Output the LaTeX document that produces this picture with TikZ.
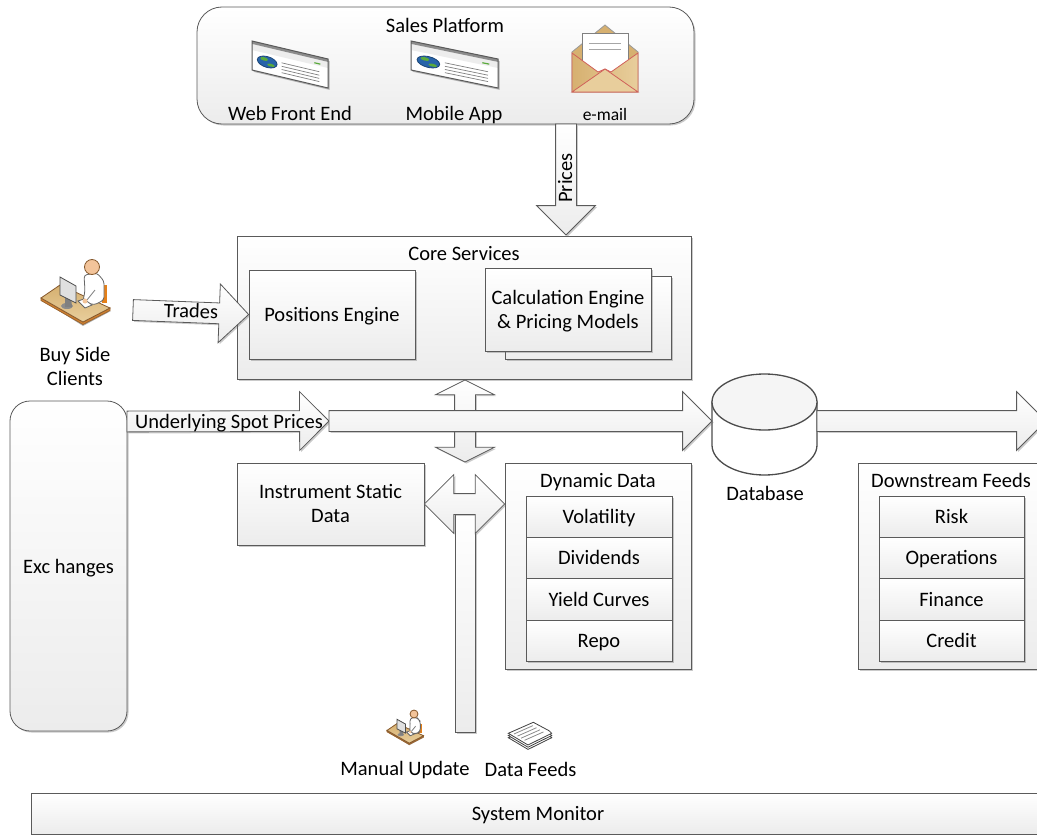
\documentclass[tikz,border=0pt]{standalone}
\usepackage{fontspec}
\setmainfont{Carlito}
\usepackage{tikz}
\usetikzlibrary{calc,shapes.arrows,shadows}
\definecolor{myline}{RGB}{90,90,90}
\definecolor{mybottom}{RGB}{236,236,236}
\definecolor{mytan}{RGB}{214,176,112}
\definecolor{mypale}{RGB}{232,206,156}
\definecolor{myrose}{RGB}{208,96,90}
\definecolor{myskin}{RGB}{243,196,154}
\definecolor{myglobe}{RGB}{40,100,170}
\definecolor{mygreen}{RGB}{90,170,60}
\tikzstyle{boxshadow}=[drop shadow={shadow xshift=1.5pt,shadow yshift=-1.5pt,opacity=.35,fill=black!60}]
\tikzstyle{oneline}=[text height=18pt,text depth=4pt]
\tikzstyle{panel}=[draw=myline,rectangle,top color=white,bottom color=mybottom,boxshadow,inner sep=0pt,align=center]
\tikzstyle{rowbox}=[panel,text height=17pt,text depth=4pt,minimum width=146pt,minimum height=41.4pt]
\tikzstyle{boxtitle}=[inner sep=0pt,align=center]
\tikzstyle{arrowbase}=[draw=myline,top color=white,bottom color=mybottom,boxshadow,outer sep=0pt,inner xsep=0pt,inner ysep=10pt]
\tikzstyle{blockarrow}=[arrowbase,single arrow,single arrow head extend=19pt,single arrow tip angle=90,anchor=tail]
\tikzstyle{twowayarrow}=[arrowbase,double arrow,double arrow head extend=19pt,double arrow tip angle=90,anchor=center]
% #1 name, #2 from, #3 to
\newcommand{\blockarrow}[3]{\path let \p1=($(#3)-(#2)$), \n1={veclen(\x1,\y1)}, \n2={atan2(\y1,\x1)} in (#2) node [blockarrow,minimum height=\n1,rotate=\n2] (#1) {};}
\newcommand{\twowayarrow}[4][]{\path let \p1=($(#4)-(#3)$), \n1={veclen(\x1,\y1)}, \n2={atan2(\y1,\x1)} in ($(#3)!.5!(#4)$) node [twowayarrow,#1,minimum height=\n1,rotate=\n2] (#2) {};}
% #1 left, #2 top, #3 width
\newcommand{\browsericon}[3]{
\begin{scope}[shift={(#1,#2)},x={(#3pt,-18pt)},y={(0pt,-29pt)}]
\fill [black!30] (.02,.06) -- (1.02,.06) -- (1.02,1.05) -- (.02,1.05) -- cycle;
\fill [white] (0,0) -- (1,0) -- (1,1) -- (0,1) -- cycle;
\fill [black!7] (0,.1) -- (1,.1) -- (1,.31) -- (0,.31) -- cycle;
\fill [black!45] (0,0) -- (1,0) -- (1,.1) -- (0,.1) -- cycle;
\draw [myglobe!70!black,fill=myglobe] (.2,.6) ellipse [x radius=.13,y radius=.19];
\fill [mygreen] (.16,.52) ellipse [x radius=.05,y radius=.06];
\fill [mygreen] (.25,.68) ellipse [x radius=.05,y radius=.05];
\draw [mygreen,line width=1.2pt] (.82,.24) -- (.9,.24);
\foreach \v in {.51,.63,.74,.85} \draw [black!50,line width=.7pt] (.39,\v) -- (.885,\v);
\draw [myline,line width=1pt] (0,0) -- (1,0) -- (1,1) -- (0,1) -- cycle;
\end{scope}}
% #1 head x, #2 head y, #3 scale
\newcommand{\clienticon}[3]{
\begin{scope}[shift={(#1,#2)},scale=#3]
\fill [black!30] (-50,33) -- (-9,59) -- (19,44) -- (-9,50) -- cycle;
\draw [brown!80!black,fill=brown!70!orange] (-51,31) -- (-9,55) -- (18,41) -- (18,43.5) -- (-9,57.5) -- (-51,33.5) -- cycle;
\draw [brown!70!black,top color=mytan,bottom color=mypale] (-51,31) -- (-32,18) -- (18,41) -- (-9,55) -- cycle;
\fill [orange!60!brown] (10,18) -- (15,18) -- (15,36) -- (10,36) -- cycle;
\draw [black!60,fill=white,rounded corners=3pt] (-8,8) -- (5,6) -- (12,14) -- (12,33) -- (2,38) -- (-9,34) -- (-7,24) -- cycle;
\draw [black!50] (3,23) -- (-5,33);
\draw [black!60,fill=white] (-14,34) -- (-8,32) -- (0,38) -- (-7,41) -- cycle;
\fill [myskin] (-7,34) circle (2.5);
\fill [black!45] (-25,39) ellipse [x radius=6,y radius=3];
\fill [black!50] (-27,29) -- (-21,30) -- (-20,40) -- (-27,40) -- cycle;
\draw [black!70,fill=black!12] (-32,10) -- (-16,19) -- (-16,36) -- (-32,28) -- cycle;
\draw [brown!70!black,fill=myskin] (0,0) circle (7.5);
\end{scope}}
\begin{document}
\begin{tikzpicture}[x=1pt,y=-1pt,line width=.8pt,font=\fontsize{20.5}{24}\selectfont]
\useasboundingbox (0,0) rectangle (1037,835);
\clip (0,0) rectangle (1037,835);
\draw (445.5, 65.5) node [panel, rounded corners=25pt, minimum width=497pt, minimum height=117pt] (sales) {};
\draw (464, 307.5) node [panel, minimum width=454pt, minimum height=143pt] (core) {};
\draw (332, 314.5) node [panel, oneline, minimum width=166pt, minimum height=89pt] (positions) {Positions Engine};
\draw (588, 317.5) node [panel, minimum width=166pt, minimum height=83pt] (calcback) {};
\draw (568, 309.5) node [panel, minimum width=166pt, minimum height=83pt] (calc) {};
\draw (68.5, 566) node [panel, oneline, rounded corners=20pt, minimum width=117pt, minimum height=330pt] (exchanges) {Exc hanges};
\draw (330.5, 504) node [panel, minimum width=187pt, minimum height=82pt] (static) {};
\draw (598, 566) node [panel, minimum width=186pt, minimum height=206pt] (dynamic) {};
\draw (951.5, 566) node [panel, minimum width=187pt, minimum height=206pt] (feeds) {};
\draw (538, 813.5) node [panel, oneline, minimum width=1014pt, minimum height=41pt] (monitor) {System Monitor};
% titles
\draw (568, 311) node [boxtitle] (calctext) {Calculation Engine\\\& Pricing Models};
\draw (330.5, 503) node [boxtitle] (statictext) {Instrument Static\\Data};
\draw (445, 25) node [boxtitle, oneline] (salestitle) {Sales Platform};
\draw (464, 253) node [boxtitle, oneline] (coretitle) {Core Services};
\draw (598, 480) node [boxtitle, oneline] (dynamictitle) {Dynamic Data};
\draw (951, 480) node [boxtitle, oneline] (feedstitle) {Downstream Feeds};
\draw (290, 113) node [boxtitle, oneline] (weblabel) {Web Front End};
\draw (454, 113) node [boxtitle, oneline] (mobilelabel) {Mobile App};
\draw (605, 114) node [boxtitle, font=\fontsize{17.5}{20}\selectfont] (maillabel) {e-mail};
\draw (75, 366.5) node [boxtitle] (clients) {Buy Side\\Clients};
\draw (405, 768) node [boxtitle, oneline] (manual) {Manual Update};
\draw (530.5, 769) node [boxtitle, oneline] (datafeeds) {Data Feeds};
\draw (765, 493) node [boxtitle, oneline] (dblabel) {Database};
% rows
\draw (599, 516.7) node [rowbox] (volatility) {Volatility};
\draw (599, 558.1) node [rowbox] (dividends) {Dividends};
\draw (599, 599.5) node [rowbox] (curves) {Yield Curves};
\draw (599, 640.9) node [rowbox] (repo) {Repo};
\draw (951.5, 516.7) node [rowbox, minimum width=145pt] (risk) {Risk};
\draw (951.5, 558.1) node [rowbox, minimum width=145pt] (operations) {Operations};
\draw (951.5, 599.5) node [rowbox, minimum width=145pt] (finance) {Finance};
\draw (951.5, 640.9) node [rowbox, minimum width=145pt] (credit) {Credit};
% database
\draw [black!70, line width=1.3pt, fill=white] (712,402) -- (712,445) arc [start angle=180, end angle=0, x radius=52.5, y radius=30] -- (817,402) -- cycle;
\draw [black!70, line width=1.3pt, fill=black!4] (764.5,402) ellipse [x radius=52.5, y radius=28];
\draw (764.5, 424.5) node [minimum width=105pt, minimum height=101pt, inner sep=0pt, outer sep=0pt] (database) {};
% end points
\coordinate (pricesa) at (566, 124);
\coordinate (pricesb) at (566, 235);
\coordinate (updowna) at (465, 380);
\coordinate (updownb) at (465, 462);
\coordinate (spota) at (127, 421.5);
\coordinate (spotb) at (329, 421);
\coordinate (dbin) at (712, 421);
\coordinate (dbout) at (817, 421);
\coordinate (outend) at (1046, 421);
% arrows
\blockarrow{prices}{pricesa}{pricesb}
\twowayarrow[double arrow tip angle=127]{updown}{updowna}{updownb}
\blockarrow{trades}{133,310}{positions.west}
\blockarrow{spotin}{spota}{spotb}
\blockarrow{spotmain}{spotb}{dbin}
\blockarrow{dbfeed}{dbout}{outend}
\draw (465, 622.5) node [panel, minimum width=20pt, minimum height=219pt] (stem) {};
\twowayarrow{staticlink}{static.east}{static.east -| dynamic.west}
\draw (565, 178) node [boxtitle, oneline, rotate=90] (priceslabel) {Prices};
\draw (191, 311) node [boxtitle, oneline, rotate=-2] (tradeslabel) {Trades};
\draw (229, 421) node [boxtitle, oneline] (spotlabel) {Underlying Spot Prices};
% icons
\browsericon{252}{41}{76}
\browsericon{411}{41}{87}
\clienticon{92}{267}{1}
\clienticon{414}{714}{.53}
% envelope
\draw [black!40,fill=mytan] (572,52) -- (605,25) -- (638,52) -- (638,92) -- (572,92) -- cycle;
\draw [black!50,fill=white] (582,33) rectangle (628,80);
\draw [black!35] (589,43) -- (621,43) (589,49) -- (621,49);
\draw [myrose,left color=mytan,right color=mypale] (572,53) -- (598,72) -- (605,69) -- (611,72) -- (638,53) -- (638,92) -- (572,92) -- cycle;
\draw [myrose,fill=mypale] (572,92) -- (605,69) -- (638,92) -- cycle;
% paper stack
\foreach \s in {4.4,2.2,0} \draw [black!75,fill=white] (508.3,733.3+\s) -- (533.3,722.3+\s) -- (549,730.7+\s) -- (551.7,733.3+\s) -- (528,745+\s) -- cycle;
\foreach \i in {0,1,2,3} \draw [black!45] (514+3.5*\i,734+2.1*\i) -- (533+3.5*\i,725.6+2.1*\i);
\end{tikzpicture}
\end{document}
